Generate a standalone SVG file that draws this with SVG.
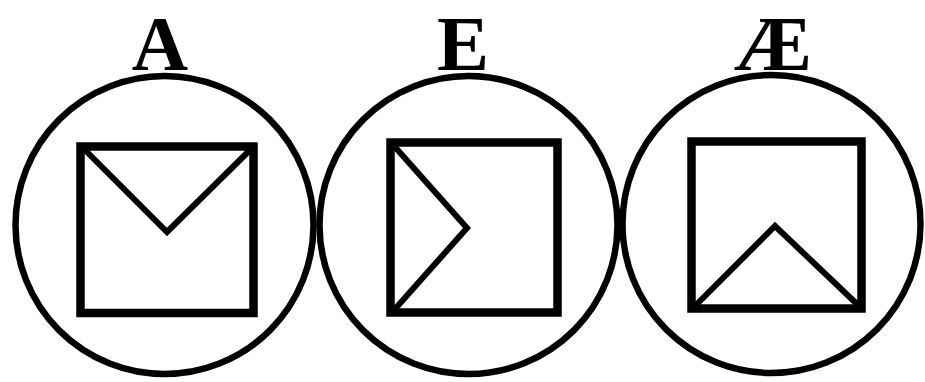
<svg xmlns="http://www.w3.org/2000/svg" width="925" height="382" viewBox="0 0 925 382">
<style>
.c{fill:none;stroke:#000;stroke-width:6.5}
.r{fill:none;stroke:#000;stroke-width:8.5}
.l{fill:none;stroke:#000;stroke-width:6;stroke-linejoin:miter}
.t{font-family:"Liberation Serif","Times New Roman",serif;font-weight:bold;font-size:78px;fill:#000;text-anchor:middle}
</style>
<rect width="925" height="382" fill="#fff"/>
<g id="nodeA">
<circle class="c" cx="164.5" cy="225" r="149"/>
<rect class="r" x="80.5" y="146.5" width="173" height="166.5"/>
<polyline class="l" points="84,149 167,232 251,149"/>
<text class="t" x="160" y="70">A</text>
</g>
<g id="nodeE">
<circle class="c" cx="468.5" cy="225" r="149"/>
<rect class="r" x="390.5" y="142.5" width="167" height="170"/>
<polyline class="l" points="395,147 467,228 395,309"/>
<text class="t" x="463" y="70">E</text>
</g>
<g id="nodeAE">
<circle class="c" cx="771.5" cy="224" r="149"/>
<rect class="r" x="691.5" y="141.5" width="170" height="167"/>
<polyline class="l" points="696,305 775,226 858,305"/>
<text class="t" x="773" y="70">Æ</text>
</g>
<g id="connectors"></g>
</svg>
